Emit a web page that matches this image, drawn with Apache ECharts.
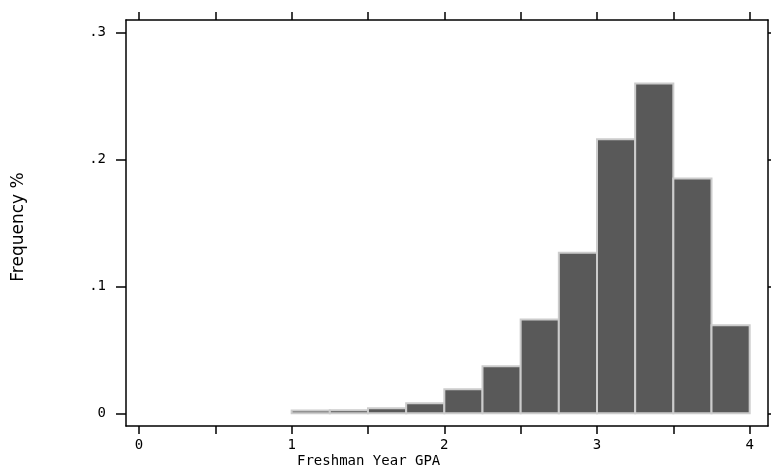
<!DOCTYPE html>
<html><head><meta charset="utf-8">
<script src="https://cdn.jsdelivr.net/npm/echarts@6/dist/echarts.min.js"></script>
<style>html,body{margin:0;padding:0;background:#fff}#c{width:771px;height:469px}</style>
</head><body><div id="c"></div>
<script>
// Histogram bins (GPA lower edge, upper edge) and frequencies
const binStarts = [1.0, 1.25, 1.5, 1.75, 2.0, 2.25, 2.5, 2.75, 3.0, 3.25, 3.5, 3.75];
const binEnds   = [1.25, 1.5, 1.75, 2.0, 2.25, 2.5, 2.75, 3.0, 3.25, 3.5, 3.75, 4.0];
const frequencies = [0.0022, 0.0025, 0.004, 0.008, 0.019, 0.037, 0.074, 0.1265, 0.216, 0.26, 0.185, 0.0695];
const xTicks = [0, 0.5, 1, 1.5, 2, 2.5, 3, 3.5, 4];
const xLabels = [0, 1, 2, 3, 4];
const yTicks = [0, 0.1, 0.2, 0.3];

const data = binStarts.map((s, i) => [s, binEnds[i], frequencies[i]]);
const font = '"DejaVu Sans Mono", monospace';
const chart = echarts.init(document.getElementById('c'), null, {renderer: 'canvas'});
const axLine = {show: true, onZero: false, lineStyle: {color: '#000', width: 1.5}};
chart.setOption({
  animation: false,
  backgroundColor: '#fff',
  grid: {left: 126, right: 3, top: 20, bottom: 43},
  xAxis: [
    {type: 'value', position: 'bottom', min: -0.085, max: 4.12,
     axisLine: axLine,
     axisTick: {show: true, customValues: xTicks, length: 8, lineStyle: {color: '#000', width: 1.5}},
     axisLabel: {customValues: xLabels, fontFamily: font, fontSize: 14, color: '#000', margin: 12},
     splitLine: {show: false}},
    {type: 'value', position: 'top', min: -0.085, max: 4.12,
     axisLine: axLine,
     axisTick: {show: true, customValues: xTicks, length: 8, lineStyle: {color: '#000', width: 1.5}},
     axisLabel: {show: false}, splitLine: {show: false}}
  ],
  yAxis: [
    {type: 'value', position: 'left', min: -0.01, max: 0.31,
     axisLine: axLine,
     axisTick: {show: true, customValues: yTicks, length: 10, lineStyle: {color: '#000', width: 1.5}},
     axisLabel: {customValues: yTicks, fontFamily: font, fontSize: 14, color: '#000', margin: 20,
       padding: [6, 0, 0, 0],
       formatter: v => v === 0 ? '0' : ('.' + Math.round(v * 10))},
     splitLine: {show: false}},
    {type: 'value', position: 'right', min: -0.01, max: 0.31,
     axisLine: axLine,
     axisTick: {show: true, customValues: yTicks, length: 8, lineStyle: {color: '#000', width: 1.5}},
     axisLabel: {show: false}, splitLine: {show: false}}
  ],
  graphic: [
    {type: 'text', left: 297, top: 454, style: {text: 'Freshman Year GPA', font: '14px ' + font, fill: '#000'}},
    {type: 'text', x: 19, y: 227, rotation: Math.PI / 2, style: {text: 'Frequency %', font: '17px "DejaVu Sans", sans-serif', fill: '#000', align: 'center', verticalAlign: 'middle'}}
  ],
  series: [{
    type: 'custom',
    xAxisIndex: 0, yAxisIndex: 0,
    data: data,
    encode: {x: [0, 1], y: 2},
    renderItem: function (params, api) {
      const p0 = api.coord([api.value(0), 0]);
      const p1 = api.coord([api.value(1), api.value(2)]);
      return {
        type: 'rect',
        shape: {x: p0[0], y: p1[1], width: p1[0] - p0[0], height: p0[1] - p1[1]},
        style: {fill: '#595959', stroke: '#cccccc', lineWidth: 2}
      };
    }
  }]
});
</script></body></html>
